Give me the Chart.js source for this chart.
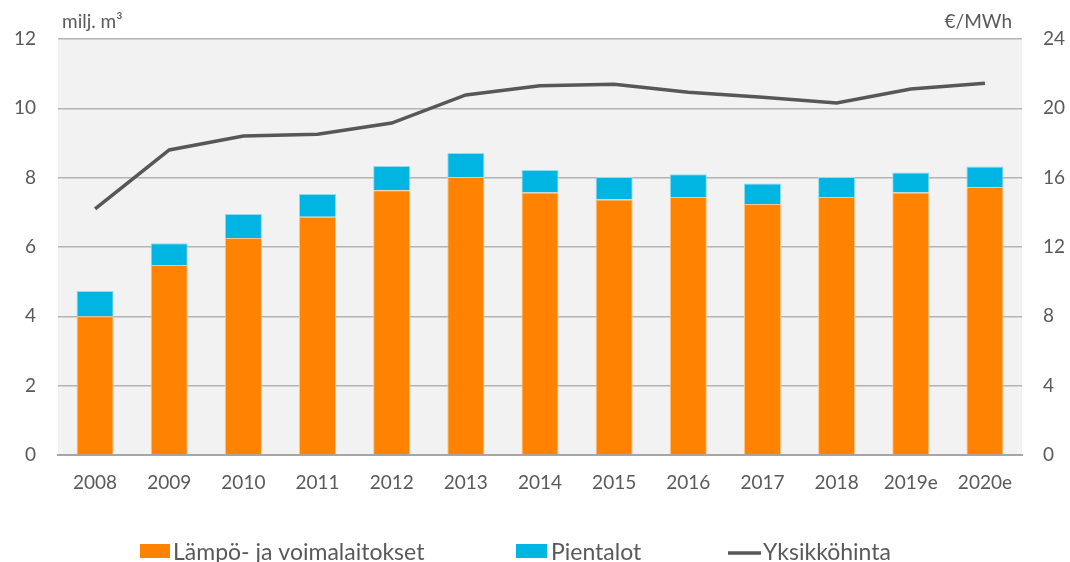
<!DOCTYPE html>
<html>
<head>
<meta charset="utf-8">
<script src="https://cdn.jsdelivr.net/npm/chart.js@4"></script>
<style>
  html, body { margin: 0; padding: 0; background: #fff; }
  #wrap { width: 1070px; height: 562px; position: relative; }
</style>
</head>
<body>
<div id="wrap"><canvas id="myChart" width="1070" height="562"></canvas></div>
<script>
// data
const years = ['2008', '2009', '2010', '2011', '2012', '2013', '2014', '2015', '2016', '2017', '2018', '2019e', '2020e'];
const lampoJaVoima = [4.0, 5.48, 6.26, 6.87, 7.64, 8.02, 7.57, 7.37, 7.44, 7.24, 7.44, 7.57, 7.73];
const pientalot = [0.73, 0.63, 0.69, 0.66, 0.70, 0.69, 0.65, 0.65, 0.66, 0.59, 0.58, 0.58, 0.59];
const yksikkohinta = [14.2, 17.6, 18.4, 18.5, 19.15, 20.77, 21.3, 21.39, 20.93, 20.64, 20.31, 21.12, 21.45];
const leftTicks = [0, 2, 4, 6, 8, 10, 12];
const rightTicks = [0, 4, 8, 12, 16, 20, 24];

const textColor = '#595959';
const fontFamily = 'Lato, "Open Sans", sans-serif';

// plot background + axis titles + legend
const extras = {
    id: 'extras',
    beforeDraw(chart) {
        const a = chart.chartArea;
        const c = chart.ctx;
        c.save();
        c.fillStyle = '#f2f2f2';
        c.fillRect(a.left, a.top, a.right - a.left, a.bottom - a.top);
        c.restore();
    },
    afterDraw(chart) {
        const c = chart.ctx;
        c.save();
        c.fillStyle = textColor;
        c.font = '19px ' + fontFamily;
        c.textBaseline = 'alphabetic';
        c.textAlign = 'left';
        c.fillText('milj. m³', 62, 28);
        c.textAlign = 'right';
        c.fillText('€/MWh', 1012, 28);

        // legend
        const base = 560;
        c.textAlign = 'left';
        c.font = '23px ' + fontFamily;
        const ds = chart.data.datasets;
        c.fillStyle = ds[0].backgroundColor;
        c.fillRect(140, 544, 30, 14);
        c.fillStyle = textColor;
        c.fillText(ds[0].label, 173, base);
        c.fillStyle = ds[1].backgroundColor;
        c.fillRect(516, 544, 31, 14);
        c.fillStyle = textColor;
        c.fillText(ds[1].label, 551, base);
        c.strokeStyle = ds[2].borderColor;
        c.lineWidth = 3.5;
        c.beginPath();
        c.moveTo(728, 553);
        c.lineTo(761, 553);
        c.stroke();
        c.fillText(ds[2].label, 763, base);
        c.restore();
    }
};

const ctx = document.getElementById('myChart').getContext('2d');
const myChart = new Chart(ctx, {
    type: 'bar',
    data: {
        labels: years,
        datasets: [{
            label: 'Lämpö- ja voimalaitokset',
            data: lampoJaVoima,
            backgroundColor: '#ff8300',
            borderColor: '#ffc48a',
            borderWidth: 1,
            barPercentage: 0.5,
            categoryPercentage: 1,
            yAxisID: 'y',
            order: 2
        }, {
            label: 'Pientalot',
            data: pientalot,
            backgroundColor: '#00b5e2',
            borderColor: '#8fdcf0',
            borderWidth: 1,
            barPercentage: 0.5,
            categoryPercentage: 1,
            yAxisID: 'y',
            order: 2
        }, {
            type: 'line',
            label: 'Yksikköhinta',
            data: yksikkohinta,
            borderColor: '#575757',
            backgroundColor: '#575757',
            borderWidth: 3.5,
            pointRadius: 0,
            tension: 0,
            yAxisID: 'y1',
            order: 1
        }]
    },
    options: {
        responsive: false,
        animation: false,
        layout: { padding: { top: 39, bottom: 67, left: 0, right: 0 } },
        plugins: {
            legend: { display: false },
            tooltip: { enabled: false }
        },
        scales: {
            x: {
                stacked: true,
                grid: { display: false },
                border: { color: '#a6a6a6', width: 2 },
                ticks: { color: textColor, font: { family: fontFamily, size: 19 }, padding: 8 },
                afterFit(scale) { scale.height = 40; }
            },
            y: {
                stacked: true,
                position: 'left',
                min: 0,
                max: 12,
                afterBuildTicks(scale) { scale.ticks = leftTicks.map(v => ({ value: v })); },
                grid: { color: '#b3b3b3', lineWidth: 1.5, drawTicks: false },
                border: { display: false },
                ticks: { color: textColor, font: { family: fontFamily, size: 19 }, padding: 22 },
                afterFit(scale) { scale.width = 58; }
            },
            y1: {
                position: 'right',
                min: 0,
                max: 24,
                afterBuildTicks(scale) { scale.ticks = rightTicks.map(v => ({ value: v })); },
                grid: { display: false },
                border: { display: false },
                ticks: { color: textColor, font: { family: fontFamily, size: 19 }, padding: 13 },
                afterFit(scale) { scale.width = 48; }
            }
        }
    },
    plugins: [extras]
});
</script>
</body>
</html>
